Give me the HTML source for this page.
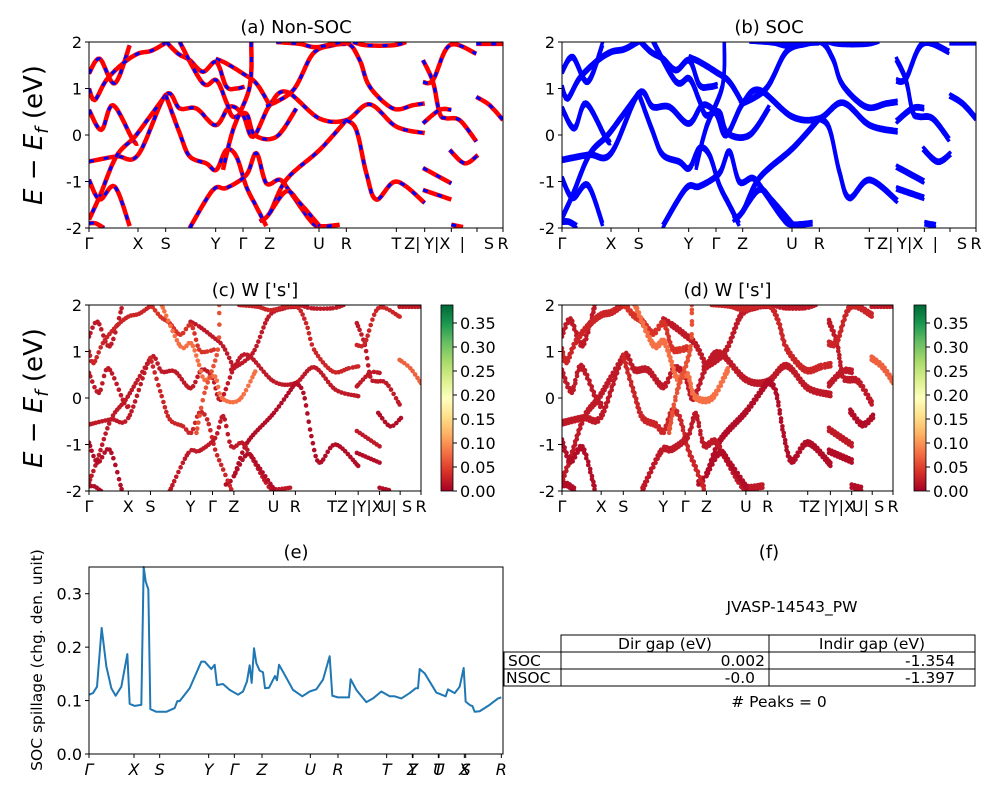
<!DOCTYPE html>
<html><head><meta charset="utf-8"><style>
html,body{margin:0;padding:0;background:#fff;}
svg{display:block;font-family:"DejaVu Sans","Liberation Sans",sans-serif;}
</style></head><body>
<svg id="fig" width="1000" height="800" viewBox="0 0 1000 800" xmlns="http://www.w3.org/2000/svg">
<defs>
<clipPath id="clipA"><rect x="89" y="42" width="414" height="186"/></clipPath>
<clipPath id="clipB"><rect x="562" y="42" width="414" height="186"/></clipPath>
<clipPath id="clipC"><rect x="89" y="305" width="332" height="186"/></clipPath>
<clipPath id="clipD"><rect x="562" y="305" width="331" height="186"/></clipPath>
<linearGradient id="cmap" x1="0" y1="1" x2="0" y2="0">
<stop offset="0" stop-color="#a50026"/><stop offset="0.1" stop-color="#d73027"/><stop offset="0.2" stop-color="#f46d43"/><stop offset="0.3" stop-color="#fdae61"/><stop offset="0.4" stop-color="#fee08b"/><stop offset="0.5" stop-color="#ffffbf"/><stop offset="0.6" stop-color="#d9ef8b"/><stop offset="0.7" stop-color="#a6d96a"/><stop offset="0.8" stop-color="#66bd63"/><stop offset="0.9" stop-color="#1a9850"/><stop offset="1" stop-color="#006837"/>
</linearGradient>
</defs>
<g id="layer"></g>
<g font-size="15.5" fill="#000">
<text x="792" y="612" text-anchor="middle">JVASP-14543_PW</text>
<rect x="561" y="635" width="414" height="17" fill="none" stroke="#000"/>
<line x1="769" y1="635" x2="769" y2="686" stroke="#000"/>
<rect x="504" y="652" width="471" height="34" fill="none" stroke="#000"/>
<line x1="504" y1="669" x2="975" y2="669" stroke="#000"/>
<line x1="561" y1="652" x2="561" y2="686" stroke="#000"/>
<text x="665" y="649" text-anchor="middle">Dir gap (eV)</text>
<text x="872" y="649" text-anchor="middle">Indir gap (eV)</text>
<text x="508" y="666">SOC</text>
<text x="506" y="683">NSOC</text>
<text x="765" y="666" text-anchor="end">0.002</text>
<text x="955" y="666" text-anchor="end">-1.354</text>
<text x="755" y="683" text-anchor="end">-0.0</text>
<text x="955" y="683" text-anchor="end">-1.397</text>
<text x="779" y="707" text-anchor="middle"># Peaks = 0</text>
<text x="769" y="558" text-anchor="middle" font-size="18">(f)</text>
</g>
</svg>
<script>
const kTicks=[0,147,230,380,462,542,690,772,922,1007,1087,1164,1242];
const kLabels=["Γ","X","S","Y","Γ","Z","U","R","T","Z|Y","Y|X","X|S","R"];
const eTicks=[-2,-1,0,1,2];
const bandK=[
[0,32,77,122],
[0,17,52,102,147,187,230],
[0,37,72,132,147],
[0,82,147,230,272,322,380,422,462,492,542,592,690,772,842,922,1007],
[772,692,592,542,512],
[772,802,832,862,922,1007],
[230,182,137,82,32,0],
[230,272,302,352,382,412,442,472,502,532],
[0,32,77,122],
[302,372,412,472,502,532,572,602,662,690,752],
[380,412,462,502,542],
[232,267,302,342,382,412,442,467],
[272,342,382,412,432,472,497,562,622],
[487,482,432,402],
[532,612,672,732,772],
[562,632,682,772,812,842,912,972,1007],
[792,832,912,952],
[542,592,632,692],
[1002,1032,1052,1072,1112,1162],
[1002,1032,1082,1162],
[1002,1052,1087],
[1082,1127,1167],
[1002,1087],
[1002,1087],
[1162,1202,1242],
[1162,1242],
[1087,1122],
[0,20,45]
];
const bandE=[
[1.32,1.64,1.11,1.93],
[1.0,0.75,1.18,1.54,1.75,1.81,1.98],
[0.54,0.11,0.64,-0.11,-0.18],
[-0.57,-0.46,-0.43,0.86,0.57,0.57,0.21,0.61,0.43,-0.04,0.64,0.93,0.36,0.32,0.66,0.18,0.04],
[0.32,-0.32,-0.96,-1.68,-1.86],
[0.32,0.11,-0.82,-1.39,-1.0,-1.46],
[0.86,0.39,-0.04,-0.46,-1.32,-1.82],
[0.86,0.04,-0.46,-0.61,-0.75,-0.32,-0.46,-1.11,-1.54,-1.96],
[-0.96,-1.39,-1.11,-1.96],
[-2,-1.18,-1.14,-0.86,-0.39,-1.04,-0.96,-1.21,-1.82,-1.96,-1.93],
[1.64,1.54,1.32,1.11,0.64],
[2,1.75,1.61,1.36,1.57,1.04,1.0,1.04],
[2,1.11,1.18,0.71,0.39,0.46,0,-0.04,0.57],
[2,1.04,0.11,-0.75],
[0.61,0.96,1.75,1.93,1.96],
[2,1.96,1.89,1.98,1.61,1.04,0.57,0.64,0.68],
[2,1.93,1.93,2],
[-1.68,-1.21,-1.46,-1.96],
[1.61,1.14,0.46,0.36,0.32,-0.14],
[1.14,1.18,1.93,1.75],
[0.25,0.54,0.54],
[-0.32,-0.61,-0.43],
[-0.71,-1.04],
[-1.18,-1.39],
[0.82,0.64,0.32],
[1.96,1.96],
[-1.93,-1.98],
[-1.9,-1.9,-2]
];
const bandW=[0.02,0.03,0.02,0.02,0.01,0.01,0.02,0.03,0.01,0.02,0.02,0.04,0.08,0.06,0.02,0.03,0.02,0.01,0.02,0.03,0.02,0.01,0.02,0.01,0.07,0.02,0.01,0.01];
const cbTicks=[0,0.05,0.1,0.15,0.2,0.25,0.3,0.35];
const cbMax=0.3875;
const spillK=[0,12,24,38,52,67,80,97,115,122,137,157,164,170,178,184,202,232,257,265,272,302,337,347,367,377,384,402,422,447,462,474,482,488,495,502,512,522,528,540,558,564,570,582,612,640,662,682,702,722,730,747,780,785,802,832,852,877,902,917,937,962,980,987,992,1007,1042,1070,1077,1097,1112,1124,1130,1144,1150,1157,1172,1202,1227,1237];
const spillV=[0.111,0.114,0.126,0.236,0.164,0.123,0.109,0.126,0.187,0.094,0.090,0.092,0.350,0.323,0.308,0.084,0.079,0.079,0.086,0.099,0.099,0.123,0.173,0.173,0.159,0.167,0.129,0.131,0.120,0.111,0.117,0.136,0.166,0.133,0.198,0.170,0.156,0.153,0.123,0.124,0.146,0.138,0.167,0.154,0.120,0.108,0.117,0.121,0.139,0.183,0.109,0.106,0.106,0.140,0.120,0.097,0.104,0.117,0.108,0.108,0.104,0.114,0.123,0.123,0.159,0.151,0.115,0.108,0.121,0.114,0.126,0.161,0.098,0.091,0.090,0.079,0.080,0.092,0.104,0.106];
const spillTicks=[0,0.1,0.2,0.3];
const spillTickK=[0,135,212,359,436,519,664,747,893,970,972,1048,1050,1126,1130,1237];
const spillLabels=["Γ","X","S","Y","Γ","Z","U","R","T","Z","Y","T","U","X","S","R"];

const NS="http://www.w3.org/2000/svg";
const layer=document.getElementById('layer');
function mk(tag,attrs,parent){const e=document.createElementNS(NS,tag);for(const a in attrs)e.setAttribute(a,attrs[a]);(parent||layer).appendChild(e);return e;}
const KMAX=1242;
function axis(x0,x1,y0,y1,lo,hi,kmax){return{x:k=>x0+(x1-x0)*k/kmax,y:v=>y1-(y1-y0)*(v-lo)/(hi-lo),x0,x1,y0,y1};}
function cmapColor(w){
  const st=[[165,0,38],[215,48,39],[244,109,67],[253,174,97],[254,224,139],[255,255,191],[217,239,139],[166,217,106],[102,189,99],[26,152,80],[0,104,55]];
  let t=Math.max(0,Math.min(1,w/cbMax))*10;const i=Math.min(9,Math.floor(t));const f=t-i;
  const c=st[i].map((v,j)=>Math.round(v+(st[i+1][j]-v)*f));return `rgb(${c[0]},${c[1]},${c[2]})`;
}
// Catmull-Rom sampled points in data space
function smoothSamples(b,step){
  const ks=bandK[b],es=bandE[b],out=[];const n=ks.length;
  if(n<3){const m=Math.max(2,Math.round(Math.abs(ks[1]-ks[0])/step));for(let j=0;j<=m;j++){const f=j/m;out.push([ks[0]+(ks[1]-ks[0])*f,es[0]+(es[1]-es[0])*f]);}return out;}
  for(let i=0;i<n-1;i++){
    const p0=[ks[Math.max(0,i-1)],es[Math.max(0,i-1)]],p1=[ks[i],es[i]],p2=[ks[i+1],es[i+1]],p3=[ks[Math.min(n-1,i+2)],es[Math.min(n-1,i+2)]];
    const m=Math.max(2,Math.round(Math.abs(p2[0]-p1[0])/step+Math.abs(p2[1]-p1[1])*4));
    for(let j=(i===0?0:1);j<=m;j++){const t=j/m,t2=t*t,t3=t2*t;
      const f=(a,b2,c,d)=>0.5*((2*b2)+(-a+c)*t+(2*a-5*b2+4*c-d)*t2+(-a+3*b2-3*c+d)*t3);
      out.push([f(p0[0],p1[0],p2[0],p3[0]),f(p0[1],p1[1],p2[1],p3[1])]);}
  }
  return out;
}
function frame(ax,name,title){
  const g=mk('g',{});
  
  
  const t=mk('text',{x:(ax.x0+ax.x1)/2,y:ax.y0-9,'text-anchor':'middle','font-size':18},g);
  t.textContent=title;
  
  
  return g;
}
function border(ax,g){
  const r=mk('rect',{x:ax.x0,y:ax.y0,width:ax.x1-ax.x0,height:ax.y1-ax.y0,fill:'none',stroke:'#000','stroke-width':1},g);
  
  
}
function eAxis(ax,g){
  eTicks.forEach(v=>{
    const y=ax.y(v);
    mk('line',{x1:ax.x0-4,y1:y,x2:ax.x0,y2:y,stroke:'#000'},g);
    const t=mk('text',{x:ax.x0-7,y:y+6,'text-anchor':'end','font-size':16},g);
    t.textContent=v;
    
    
  });
}
function kAxis(ax,g,labs){
  kTicks.forEach(k=>{const x=ax.x(k);mk('line',{x1:x,y1:ax.y1,x2:x,y2:ax.y1+4,stroke:'#000'},g);});
  labs.forEach(l=>{
    const t=mk('text',{x:ax.x(l[0]),y:ax.y1+21,'text-anchor':'middle','font-size':16},g);
    t.textContent=l[1];
    
    
  });
}
function pathFor(ax,b,dE){return smoothSamples(b,6).map((p,i)=>(i?'L':'M')+ax.x(p[0]).toFixed(1)+','+ax.y(p[1]+(dE||0)).toFixed(1)).join('');}
function ylab(x,y){
  const t=mk('text',{x:x,y:y,'text-anchor':'middle','font-size':26,transform:`rotate(-90 ${x} ${y})`});
  t.innerHTML='<tspan font-style="italic">E</tspan> − <tspan font-style="italic">E</tspan><tspan font-style="italic" font-size="18" dy="6">f</tspan><tspan dy="-6"> (eV)</tspan>';
  
  
}
const wideLabels=[[0,"Γ"],[147,"X"],[230,"S"],[380,"Y"],[462,"Γ"],[542,"Z"],[690,"U"],[772,"R"],[922,"T"],[970,"Z|"],[1045,"Y|X"],[1120,"|"],[1200,"S"],[1242,"R"]];
const narrowLabels=[[0,"Γ"],[147,"X"],[230,"S"],[380,"Y"],[462,"Γ"],[542,"Z"],[690,"U"],[772,"R"],[930,"TZ"],[1040,"|Y|X"],[1120,"U|"],[1190,"S"],[1242,"R"]];

// Panel a
{const ax=axis(89,503,42,228,-2,2,KMAX);const g=frame(ax,'panel-a-nonsoc','(a) Non-SOC');
 const cg=mk('g',{'clip-path':'url(#clipA)'},g);
 bandK.forEach((_,b)=>{
  const l=mk('path',{d:pathFor(ax,b),fill:'none',stroke:'#ff0000','stroke-width':4.5,'stroke-linejoin':'round'},cg);
  
  
  const d=mk('path',{d:pathFor(ax,b),fill:'none',stroke:'#0000ff','stroke-width':3,'stroke-dasharray':'5 10','stroke-linejoin':'round'},cg);
  
  
 });
 border(ax,g);eAxis(ax,g);kAxis(ax,g,wideLabels);}
// Panel b
{const ax=axis(562,976,42,228,-2,2,KMAX);const g=frame(ax,'panel-b-soc','(b) SOC');
 const cg=mk('g',{'clip-path':'url(#clipB)'},g);
 bandK.forEach((_,b)=>{
  [0,0.07].forEach(dE=>{
   const l=mk('path',{d:pathFor(ax,b,dE),fill:'none',stroke:'#0000ff','stroke-width':3.5,'stroke-linejoin':'round'},cg);
   
   
  });
 });
 border(ax,g);eAxis(ax,g);kAxis(ax,g,wideLabels);}
// Panels c,d
function dotPanel(x0,x1,clip,name,title,cbx,dbl){
 const ax=axis(x0,x1,305,491,-2,2,KMAX);const g=frame(ax,name,title);
 const cg=mk('g',{'clip-path':`url(#${clip})`},g);
 bandK.forEach((ks,b)=>{
  const col=cmapColor(bandW[b]);
  const offs=dbl?[0,0.07]:[0];
  smoothSamples(b,11).forEach(p=>{
    offs.forEach(o=>{
     const c=mk('circle',{cx:ax.x(p[0]),cy:ax.y(p[1]+o),r:2.3,fill:col},cg);
     
     
    });
  });
 });
 border(ax,g);eAxis(ax,g);kAxis(ax,g,narrowLabels);
 const cb=mk('g',{});
 
 
 mk('rect',{x:cbx,y:305,width:12,height:186,fill:'url(#cmap)',stroke:'#000','stroke-width':0.8},cb);
 cbTicks.forEach(v=>{const y=491-186*v/cbMax;
  mk('line',{x1:cbx+12,y1:y,x2:cbx+16,y2:y,stroke:'#000'},cb);
  const t=mk('text',{x:cbx+19,y:y+6,'font-size':16},cb);t.textContent=v.toFixed(2);
  
  });
}
dotPanel(89,421,'clipC','panel-c-weights','(c)  W [\'s\']',441,false);
dotPanel(562,893,'clipD','panel-d-weights','(d) W [\'s\']',914,true);
ylab(42,135);ylab(42,398);
// Panel e
{const ax=axis(89,503,567,754,0,0.35,KMAX);const g=frame(ax,'panel-e-spillage','(e)');
 const l=mk('polyline',{points:spillK.map((k,i)=>ax.x(k)+','+ax.y(spillV[i])).join(' '),fill:'none',stroke:'#1f77b4','stroke-width':2,'stroke-linejoin':'round'},g);
 
 
 border(ax,g);
 spillTicks.forEach(v=>{const y=ax.y(v);mk('line',{x1:ax.x0-4,y1:y,x2:ax.x0,y2:y,stroke:'#000'},g);
  const t=mk('text',{x:ax.x0-7,y:y+6,'text-anchor':'end','font-size':16},g);t.textContent=v.toFixed(1);
  
  });
 spillTickK.forEach((k,i)=>{const x=ax.x(k);mk('line',{x1:x,y1:ax.y1,x2:x,y2:ax.y1+4,stroke:'#000'},g);
  const t=mk('text',{x:x,y:ax.y1+21,'text-anchor':'middle','font-size':16,'font-style':'italic'},g);t.textContent=spillLabels[i];
  
  });
 const yt=mk('text',{x:42,y:660,'text-anchor':'middle','font-size':15.5,transform:'rotate(-90 42 660)'});
 yt.textContent='SOC spillage (chg. den. unit)';
 
 }
</script>
</body></html>
